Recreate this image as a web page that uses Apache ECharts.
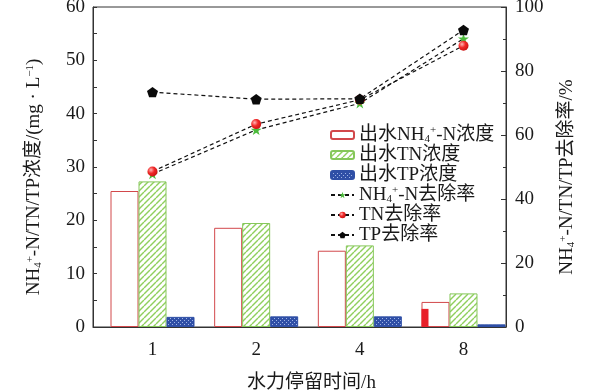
<!DOCTYPE html>
<html>
<head>
<meta charset="utf-8">
<script src="https://cdn.jsdelivr.net/npm/echarts@6/dist/echarts.min.js"></script>
<style>
html,body{margin:0;padding:0;background:#fff;}
#chart{width:600px;height:392px;}
</style>
</head>
<body>
<div id="chart"></div>
<script>
// ---- data ----
const hrtLabels = ['1', '2', '4', '8'];
const hrtPositions = [1, 2, 3, 4];
const nh4Conc = [25.5, 18.6, 14.3, 4.7];
const tnConc = [27.3, 19.5, 15.3, 6.3];
const tpConc = [1.9, 2.0, 2.0, 0.5];
const redFillConc = [null, null, null, 3.4];
const nh4Removal = [47.8, 61.6, 69.9, 90.1];
const tnRemoval = [48.6, 63.4, 71.0, 87.9];
const tpRemoval = [73.4, 71.2, 71.3, 92.8];
const leftTicks = [0, 10, 20, 30, 40, 50, 60];
const rightTicks = [0, 20, 40, 60, 80, 100];

const FONT = "'Liberation Serif','Times New Roman','Noto Sans CJK SC',serif";
const TXT = '#1a1a1a';

function pair(arr) { return arr.map((v, i) => [hrtPositions[i], v]); }

// patterns
function hatch() {
  const c = document.createElement('canvas');
  c.width = 6; c.height = 6;
  const g = c.getContext('2d');
  g.fillStyle = '#ffffff'; g.fillRect(0, 0, 6, 6);
  g.strokeStyle = '#8fcf5e'; g.lineWidth = 1.4;
  for (const o of [-6, 0, 6]) {
    g.beginPath(); g.moveTo(o, 6); g.lineTo(o + 6, 0); g.stroke();
  }
  return c;
}
function dots() {
  const c = document.createElement('canvas');
  c.width = 4; c.height = 4;
  const g = c.getContext('2d');
  g.fillStyle = '#2f4fa6'; g.fillRect(0, 0, 4, 4);
  g.fillStyle = '#9fb3e6';
  g.fillRect(0, 0, 1, 1); g.fillRect(2, 2, 1, 1);
  return c;
}

const rich = {
  sub: { fontSize: 11, fontFamily: FONT, color: TXT, verticalAlign: 'bottom', lineHeight: 11 },
  sup: { fontSize: 11, fontFamily: FONT, color: TXT, verticalAlign: 'top', lineHeight: 11 }
};

const legendNames = ['出水NH4+-N浓度', '出水TN浓度', '出水TP浓度', 'NH4+-N去除率', 'TN去除率', 'TP去除率'];
const legendRich = {
  '出水NH4+-N浓度': '出水NH{sub|4}{sup|+}-N浓度',
  'NH4+-N去除率': 'NH{sub|4}{sup|+}-N去除率'
};

const STAR = 'path://M0,-1 L0.2245,-0.309 L0.951,-0.309 L0.363,0.118 L0.588,0.809 L0,0.382 L-0.588,0.809 L-0.363,0.118 L-0.951,-0.309 L-0.2245,-0.309 Z';
const PENT = 'path://M0,-1 L0.951,-0.309 L0.588,0.809 L-0.588,0.809 L-0.951,-0.309 Z';

const lineStyle = { color: '#111', type: [4, 3], width: 1.2 };

const chart = echarts.init(document.getElementById('chart'), null, { renderer: 'canvas' });
chart.setOption({
  animation: false,
  backgroundColor: '#fff',
  grid: { left: 93, right: 94, top: 7, bottom: 65, containLabel: false, outerBoundsMode: 'none',
    show: true, borderColor: '#333', borderWidth: 1, backgroundColor: 'transparent' },
  legend: {
    orient: 'vertical', left: 325, top: 120,
    itemWidth: 23, itemHeight: 8, itemGap: 0,
    selectedMode: false,
    data: legendNames,
    formatter: n => legendRich[n] || n,
    textStyle: { fontFamily: FONT, fontSize: 19, color: TXT, lineHeight: 20, rich: rich }
  },
  xAxis: {
    type: 'value', min: 0.426, max: 4.41,
    axisLine: { show: true, lineStyle: { color: '#333', width: 1 } },
    axisTick: { show: false },
    splitLine: { show: false },
    axisLabel: {
      customValues: hrtPositions,
      formatter: v => hrtLabels[Math.round(v) - 1],
      fontFamily: FONT, fontSize: 19, color: TXT, margin: 14
    },
    name: '水力停留时间/h', nameLocation: 'middle', nameGap: 47,
    nameTextStyle: { fontFamily: FONT, fontSize: 19, color: TXT, padding: [0, 0, 0, 24] }
  },
  yAxis: [{
    type: 'value', position: 'left', min: 0, max: 60, interval: 10,
    axisLine: { show: true, lineStyle: { color: '#333', width: 1 } },
    axisTick: { show: true, inside: true, length: 4, lineStyle: { color: '#333' } },
    minorTick: { show: true, splitNumber: 2, length: 4, lineStyle: { color: '#333' } },
    splitLine: { show: false },
    axisLabel: { fontFamily: FONT, fontSize: 19, color: TXT, margin: 8, customValues: leftTicks },
    name: 'NH{sub|4}{sup|+}-N/TN/TP浓度/(mg · L{sup|−1})',
    nameLocation: 'middle', nameRotate: 90, nameGap: 49,
    nameTextStyle: { fontFamily: FONT, fontSize: 19, color: TXT, rich: rich, padding: [0, 20, 0, 0] }
  }, {
    type: 'value', position: 'right', min: 0, max: 100, interval: 20,
    axisLine: { show: true, lineStyle: { color: '#333', width: 1 } },
    axisTick: { show: true, inside: true, length: 5, lineStyle: { color: '#333' } },
    minorTick: { show: true, splitNumber: 2, length: 3, lineStyle: { color: '#333' } },
    splitLine: { show: false },
    axisLabel: { fontFamily: FONT, fontSize: 19, color: TXT, margin: 9, customValues: rightTicks },
    name: 'NH{sub|4}{sup|+}-N/TN/TP去除率/%',
    nameLocation: 'middle', nameRotate: 90, nameGap: 52,
    nameTextStyle: { fontFamily: FONT, fontSize: 19, color: TXT, rich: rich, padding: [0, 20, 0, 0] }
  }],
  series: [
    { name: '出水NH4+-N浓度', type: 'bar', barWidth: 28, barGap: '0%',
      data: pair(nh4Conc),
      itemStyle: { color: '#ffffff', borderColor: '#d2484b', borderWidth: 1 } },
    { name: '出水TN浓度', type: 'bar', barWidth: 28, barGap: '0%',
      data: pair(tnConc),
      itemStyle: { color: { image: hatch(), repetition: 'repeat' }, borderColor: '#86c75a', borderWidth: 1 } },
    { name: '出水TP浓度', type: 'bar', barWidth: 28, barGap: '0%',
      data: pair(tpConc),
      itemStyle: { color: { image: dots(), repetition: 'repeat' }, borderColor: '#2f4fa6', borderWidth: 1 } },
    { name: 'redfill', type: 'custom',
      data: pair(redFillConc).filter(d => d[1] != null),
      renderItem: function (params, api) {
        const x = api.value(0), v = api.value(1);
        const top = api.coord([x, v]);
        const base = api.coord([x, 0]);
        return { type: 'rect', shape: { x: top[0] - 42, y: top[1], width: 7, height: base[1] - top[1] },
          style: { fill: '#e8202a' } };
      }, z: 3 },
    { name: 'NH4+-N去除率', type: 'line', yAxisIndex: 1, data: pair(nh4Removal),
      symbol: STAR, symbolSize: 11, symbolKeepAspect: true,
      lineStyle: lineStyle, itemStyle: { color: '#4cbb3c' }, z: 4 },
    { name: 'TN去除率', type: 'line', yAxisIndex: 1, data: pair(tnRemoval),
      symbol: 'circle', symbolSize: 10,
      lineStyle: lineStyle,
      itemStyle: { color: { type: 'radial', x: 0.35, y: 0.35, r: 0.75,
        colorStops: [{ offset: 0, color: '#ffb4b4' }, { offset: 0.45, color: '#f02828' }, { offset: 1, color: '#c41010' }] } },
      z: 5 },
    { name: 'TP去除率', type: 'line', yAxisIndex: 1, data: pair(tpRemoval),
      symbol: PENT, symbolSize: 11, symbolKeepAspect: true,
      lineStyle: lineStyle, itemStyle: { color: '#0a0a0a' }, z: 6 }
  ]
});
</script>
</body>
</html>
